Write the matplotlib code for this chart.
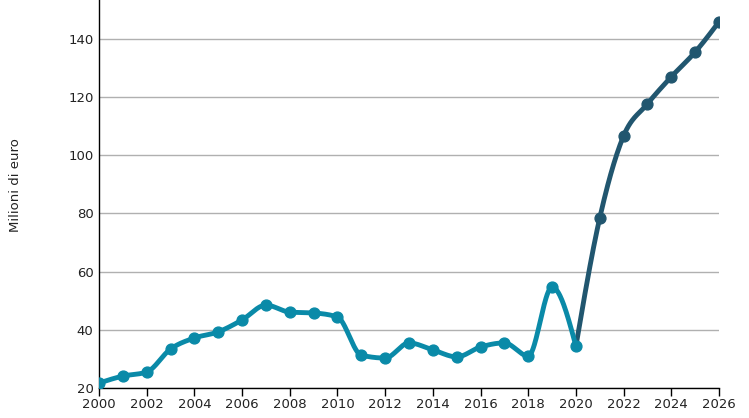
import numpy as np
import matplotlib
matplotlib.use("Agg")
import matplotlib.pyplot as plt

years_hist = [2000, 2001, 2002, 2003, 2004, 2005, 2006, 2007, 2008, 2009, 2010,
              2011, 2012, 2013, 2014, 2015, 2016, 2017, 2018, 2019, 2020]
values_hist = [21.7, 24.1, 25.5, 33.4, 37.2, 39.3, 43.4, 48.5, 46.1, 45.8, 44.4,
               31.3, 30.3, 35.5, 33.1, 30.7, 34.1, 35.5, 31.0, 54.7, 34.4]
years_fc = [2020, 2021, 2022, 2023, 2024, 2025, 2026]
values_fc = [34.4, 78.5, 106.7, 117.7, 127.0, 135.5, 145.9]
yticks = [20, 40, 60, 80, 100, 120, 140]
xticks = list(range(2000, 2027, 2))
ylabel = "Milioni di euro"

TEAL = "#0a8aa8"
DARK = "#21566f"


def monotone_curve(x, y, n=40):
    """Monotone cubic interpolation (as d3.curveMonotoneX) used only to draw the line."""
    x = np.asarray(x, float)
    y = np.asarray(y, float)
    h = np.diff(x)
    d = np.diff(y) / h
    m = np.zeros_like(y)
    for i in range(1, len(y) - 1):
        s0, s1 = d[i - 1], d[i]
        p = (s0 * h[i] + s1 * h[i - 1]) / (h[i - 1] + h[i])
        m[i] = (np.sign(s0) + np.sign(s1)) * min(abs(s0), abs(s1), 0.5 * abs(p))
    m[0] = (3 * d[0] - m[1]) / 2
    m[-1] = (3 * d[-1] - m[-2]) / 2
    xs, ys = [], []
    t = np.linspace(0, 1, n)
    h00 = 2 * t**3 - 3 * t**2 + 1
    h10 = t**3 - 2 * t**2 + t
    h01 = -2 * t**3 + 3 * t**2
    h11 = t**3 - t**2
    for i in range(len(x) - 1):
        hh = h[i]
        xs.append(x[i] + t * hh)
        ys.append(h00 * y[i] + h10 * hh * m[i] + h01 * y[i + 1] + h11 * hh * m[i + 1])
    return np.concatenate(xs), np.concatenate(ys)


fig = plt.figure(figsize=(7.49, 4.18), dpi=100)
ax = fig.add_axes([99 / 749, 30 / 418, 620 / 749, 388 / 418])
ax.set_xlim(2000, 2026)
ax.set_ylim(20, 153.4)

xf, yf = monotone_curve(years_fc, values_fc)
ax.plot(xf, yf, color=DARK, lw=3.5, solid_capstyle="round", solid_joinstyle="round", zorder=3)
ax.plot(years_fc[1:], values_fc[1:], "o", color=DARK, ms=7.8, zorder=4)

xh, yh = monotone_curve(years_hist, values_hist)
ax.plot(xh, yh, color=TEAL, lw=3.5, solid_capstyle="round", solid_joinstyle="round", zorder=5)
ax.plot(years_hist, values_hist, "o", color=TEAL, ms=7.8, zorder=6)

ax.set_yticks(yticks)
ax.set_xticks(xticks)
ax.set_yticklabels([str(v) for v in yticks], fontsize=9.5, color="#222222")
ax.set_xticklabels([str(v) for v in xticks], fontsize=9.5, color="#222222")
ax.tick_params(axis="y", length=0, pad=4)
ax.tick_params(axis="x", length=6, width=1, pad=1)
ax.grid(axis="y", color="#b0b0b0", lw=1)
ax.set_axisbelow(True)
for s in ["top", "right"]:
    ax.spines[s].set_visible(False)
for s in ["left", "bottom"]:
    ax.spines[s].set_color("black")
    ax.spines[s].set_linewidth(1)
fig.text(16 / 749, 1 - 185 / 418, ylabel, rotation=90, ha="center", va="center",
         fontsize=9.5, color="#222222")

fig.savefig("out.png", dpi=100)
